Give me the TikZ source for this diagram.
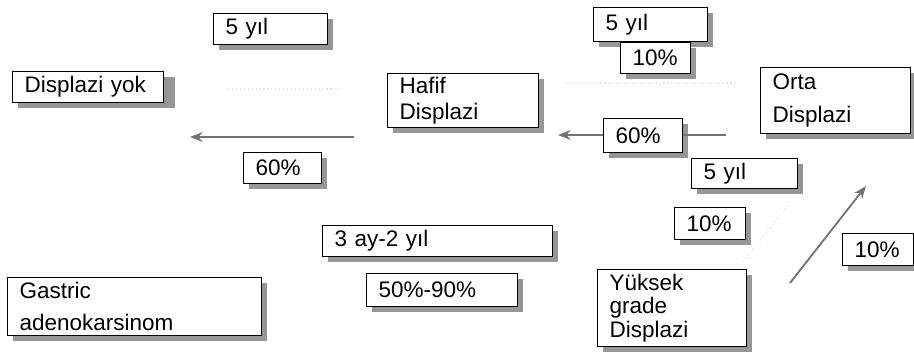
\documentclass[tikz,border=0pt]{standalone}
\usepackage{fontspec}
\setmainfont{Liberation Sans}
\usetikzlibrary{arrows.meta}
\definecolor{shadowgray}{RGB}{150,150,150}
\tikzset{
  box/.style={draw, line width=0.9pt, fill=white, anchor=north west,
    inner xsep=12*0.025cm, inner ysep=0pt, align=left,
    font=\fontsize{16}{19}\selectfont},
  wh/.style 2 args={minimum height=#2*0.025cm,
    /utils/exec={\pgfmathsetlengthmacro\boxtw{(#1-24)*0.025cm}}, text width=\boxtw},
  boxshadow/.style={fill=shadowgray},
  flow/.style={-{Stealth[length=9pt,width=7pt]}, line width=1.3pt, black!55},
  faded/.style={dotted, line width=0.8pt, gray!22}
}

\begin{document}
\begin{tikzpicture}[x=0.025cm,y=-0.025cm]
\useasboundingbox (0,0) rectangle (914,351);

% shadows of the boxes
\fill[boxshadow] (18,77) rectangle (175,108);
\fill[boxshadow] (393,79) rectangle (544,133);
\fill[boxshadow] (766,73) rectangle (916,139);
\fill[boxshadow] (603,275) rectangle (752,352);
\fill[boxshadow] (13,283) rectangle (267,341);
\fill[boxshadow] (219,19) rectangle (333,50);
\fill[boxshadow] (249,158) rectangle (327,189);
\fill[boxshadow] (599,13) rectangle (713,47);
\fill[boxshadow] (626,48) rectangle (696,79);
\fill[boxshadow] (609,124) rectangle (688,158);
\fill[boxshadow] (697,164) rectangle (803,194);
\fill[boxshadow] (680,213) rectangle (751,245);
\fill[boxshadow] (848,239) rectangle (919,271);
\fill[boxshadow] (328,231) rectangle (558,262);
\fill[boxshadow] (372,279) rectangle (523,312);

% arrows under the boxes
\coordinate (l1s) at (354,137);
\coordinate (l1e) at (190,137);
\coordinate (l2s) at (726,135);
\coordinate (l2e) at (558,135);
\coordinate (l3s) at (790,283);
\coordinate (l3e) at (866,186);
\draw[flow] (l1s) -- (l1e);
\draw[flow] (l2s) -- (l2e);
\draw[flow] (l3s) -- (l3e);

% faded lines from the scan
\coordinate (f1s) at (228,89);
\coordinate (f1e) at (340,89);
\coordinate (f2s) at (565,83);
\coordinate (f2e) at (735,83);
\coordinate (f3s) at (743,262);
\coordinate (f3e) at (788,205);
\draw[faded] (f1s) -- (f1e);
\draw[faded] (f2s) -- (f2e);
\draw[faded] (f3s) -- (f3e);

\begin{scope}[every node/.style={box}]
    \node[wh={151}{31}](yok) at (12,71) {Displazi yok};
    \node[wh={151}{54}](hafif) at (387,73) {Hafif\\Displazi};
    \node[wh={150}{66}](orta) at (760,67) {Orta\\[4.4pt]Displazi};
    \node[wh={149}{77}](yuksek) at (597,269) {Yüksek\\[-2.3pt]grade\\[-2.3pt]Displazi};
    \node[wh={254}{58}](gastric) at (7,277) {Gastric\\[3.7pt]adenokarsinom};

    \node[wh={114}{31}](yilA) at (213,13) {5 yıl};
    \node[wh={78}{31}](pctA) at (243,152) {60\%};
    \node[wh={114}{34}](yilB) at (593,7) {5 yıl};
    \node[wh={70}{31}](pctB) at (620,42) {10\%};
    \node[wh={79}{34}](pctC) at (603,118) {60\%};
    \node[wh={106}{30}](yilC) at (691,158) {5 yıl};
    \node[wh={71}{32}](pctD) at (674,207) {10\%};
    \node[wh={71}{32}](pctE) at (842,233) {10\%};
    \node[wh={230}{31}](ay) at (322,225) {3 ay-2 yıl};
    \node[wh={151}{33}](pctF) at (366,273) {50\%-90\%};
\end{scope}
\end{tikzpicture}
\end{document}
